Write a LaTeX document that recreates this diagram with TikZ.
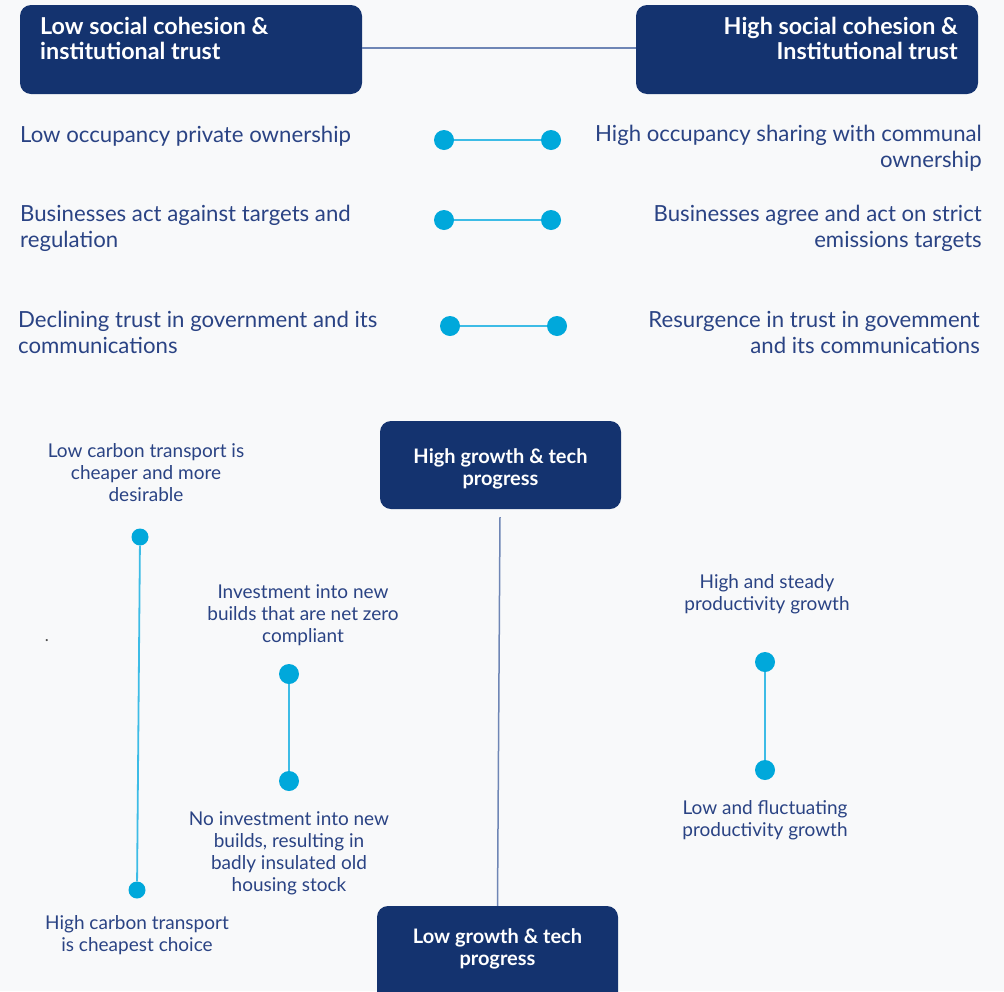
\documentclass[tikz,border=0pt]{standalone}
\usepackage{fontspec}
\setmainfont{Lato}
\definecolor{navy}{HTML}{14336F}
\definecolor{txt}{HTML}{2A4384}
\definecolor{dotc}{HTML}{00A8DB}
\definecolor{dline}{HTML}{3DBCE6}
\definecolor{gline}{HTML}{6F86B5}
\definecolor{bgc}{HTML}{F8F9FA}
\begin{document}
\begin{tikzpicture}[x=1pt,y=-1pt,
  hbox/.style={draw=none,fill=navy,rounded corners=11pt,inner sep=0pt},
  htext/.style={text=white,inner sep=0pt,font=\bfseries\fontsize{23.3}{25}\selectfont},
  mtext/.style={text=white,inner sep=0pt,align=center,font=\bfseries\fontsize{20}{21.5}\selectfont},
  big/.style={text=txt,inner sep=0pt,font=\fontsize{22.2}{25.5}\selectfont},
  small/.style={text=txt,inner sep=0pt,align=center,font=\fontsize{19}{22}\selectfont},
  dot/.style={circle,fill=dotc,inner sep=0pt,minimum size=20pt},
  sdot/.style={circle,fill=dotc,inner sep=0pt,minimum size=17pt},
  dl/.style={dline,line width=1.8pt},
  gl/.style={gline,line width=1.5pt}]
\fill[bgc] (0,0) rectangle (1004,991);
\useasboundingbox (0,0) rectangle (1004,991);
\clip (0,0) rectangle (1004,991);

% header boxes
\node[hbox,minimum width=342pt,minimum height=89pt] (lowsc) at (191,49.5) {};
\node[hbox,minimum width=342pt,minimum height=89pt] (highsc) at (807,49.5) {};
\node[htext,anchor=base west,align=left] (lowsct) at (40,59) {Low social cohesion \&\\institutional trust};
\node[htext,anchor=base east,align=right] (highsct) at (958,59) {High social cohesion \&\\Institutional trust};
\draw[gl] (lowsc.east |- 0,48) -- (highsc.west |- 0,48);

% dumbbells rows
\node[dot] (a1) at (444,140) {};
\node[dot] (b1) at (551,140) {};
\node[dot] (a2) at (444,220) {};
\node[dot] (b2) at (551,220) {};
\node[dot] (a3) at (450,326) {};
\node[dot] (b3) at (557,326) {};
\draw[dl] (a1) -- (b1);
\draw[dl] (a2) -- (b2);
\draw[dl] (a3) -- (b3);

\node[big,anchor=base west,align=left] (l1) at (20,142) {Low occupancy private ownership};
\node[big,anchor=base west,align=left] (l2) at (20,247) {Businesses act against targets and\\regulation};
\node[big,anchor=base west,align=left] (l3) at (18,353) {Declining trust in government and its\\communications};
\node[big,anchor=base east,align=right] (r1) at (982,167) {High occupancy sharing with communal\\ownership};
\node[big,anchor=base east,align=right] (r2) at (982,247) {Businesses agree and act on strict\\emissions targets};
\node[big,anchor=base east,align=right] (r3) at (980,353) {Resurgence in trust in govemment\\and its communications};

% growth boxes
\node[hbox,minimum width=241pt,minimum height=88pt] (hg) at (500.5,465) {};
\node[mtext,anchor=base] (hgt) at (500.5,485) {High growth \& tech\\progress};
\node[hbox,minimum width=241pt,minimum height=100pt] (lg) at (497.5,956) {};
\node[mtext,anchor=base] (lgt) at (497.5,965) {Low growth \& tech\\progress};
\coordinate (vtop) at (500,517);
\draw[gl] (vtop) -- (lg.north);

% left column
\node[small,anchor=base] (lct) at (146,501) {Low carbon transport is\\cheaper and more\\desirable};
\node[sdot] (lc1) at (140,537) {};
\node[sdot] (lc2) at (137,890) {};
\draw[dl] (lc1) -- (lc2);
\node[small,anchor=base] (hct) at (137,951) {High carbon transport\\is cheapest choice};

% middle-left
\node[small,anchor=base] (inv) at (303,642) {Investment into new\\builds that are net zero\\compliant};
\node[dot] (i1) at (289,674) {};
\node[dot] (i2) at (289,781) {};
\draw[dl] (i1) -- (i2);
\node[small,anchor=base] (noinv) at (289,891) {No investment into new\\builds, resulting in\\badly insulated old\\housing stock};

% right
\node[small,anchor=base] (hp) at (767,610) {High and steady\\productivity growth};
\node[dot] (p1) at (765,662) {};
\node[dot] (p2) at (765,770) {};
\draw[dl] (p1) -- (p2);
\node[small,anchor=base] (lp) at (765,836) {Low and fluctuating\\productivity growth};

% stray period
\node[text=black!70,inner sep=0pt,font=\fontsize{17}{20}\selectfont,anchor=base] (per) at (47,641) {.};
\end{tikzpicture}
\end{document}
